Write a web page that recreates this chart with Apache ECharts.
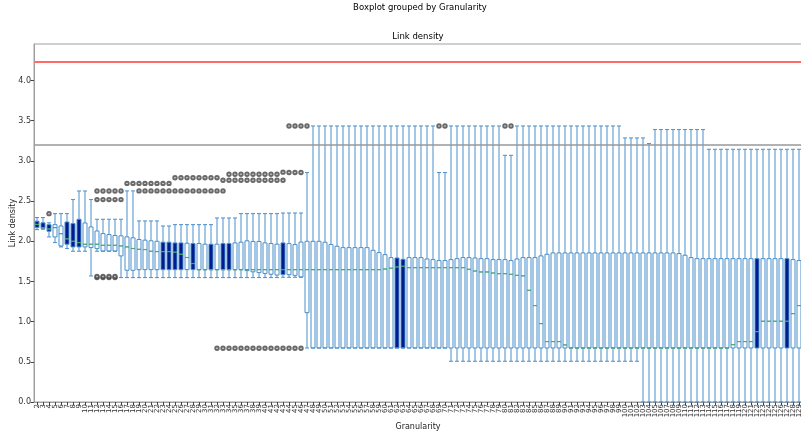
<!DOCTYPE html>
<html>
<head>
<meta charset="utf-8">
<script src="https://cdn.jsdelivr.net/npm/echarts@6/dist/echarts.min.js"></script>
<style>html,body{margin:0;padding:0;background:#fff}#c{width:801px;height:435px}</style>
</head>
<body>
<div id="c"></div>
<script>
const categories = ['2','3','4','5','6','7','8','9','10','11','12','13','14','15','16','17','18','19','20','21','22','23','24','25','26','27','28','29','30','31','32','33','34','35','36','37','38','39','40','41','42','43','44','45','46','47','48','49','50','51','52','53','54','55','56','57','58','59','60','61','62','63','64','65','66','67','68','69','70','71','72','73','74','75','76','77','78','79','80','81','82','83','84','85','86','87','88','89','90','91','92','93','94','95','96','97','98','99','100','101','102','103','104','105','106','107','108','109','110','111','112','113','114','115','116','117','118','119','120','121','122','123','124','125','126','127','128','129'];

const whiskerLow = [
2.145,2.15,2.054,1.984,1.93,1.909,1.876,1.876,1.876,1.569,
1.876,1.876,1.876,1.876,1.548,1.548,1.548,1.548,1.548,1.548,
1.548,1.548,1.548,1.548,1.548,1.548,1.548,1.548,1.548,1.548,
1.548,1.548,1.548,1.548,1.548,1.548,1.548,1.548,1.548,1.548,
1.548,1.552,1.552,1.552,1.552,0.672,0.672,0.672,0.672,0.672,
0.672,0.672,0.672,0.672,0.672,0.672,0.672,0.672,0.672,0.672,
0.672,0.672,0.672,0.672,0.672,0.672,0.672,0.672,0.672,0.507,
0.507,0.507,0.507,0.507,0.507,0.507,0.507,0.507,0.507,0.507,
0.507,0.507,0.507,0.507,0.507,0.507,0.507,0.507,0.507,0.507,
0.507,0.507,0.507,0.507,0.507,0.507,0.507,0.507,0.507,0.507,
0.507,0,0,0,0,0,0,0,0,0,
0,0,0,0,0,0,0,0,0,0,
0,0,0,0,0,0,0,0];

const q1 = [
2.17,2.16,2.125,2.054,1.942,1.963,1.93,1.93,1.93,1.922,
1.909,1.879,1.879,1.879,1.818,1.639,1.639,1.647,1.647,1.647,
1.647,1.647,1.647,1.647,1.647,1.647,1.647,1.647,1.647,1.647,
1.647,1.647,1.647,1.647,1.647,1.635,1.62,1.61,1.60,1.59,
1.58,1.585,1.585,1.576,1.556,1.112,0.672,0.672,0.672,0.672,
0.672,0.672,0.672,0.672,0.672,0.672,0.672,0.672,0.672,0.672,
0.672,0.672,0.672,0.672,0.672,0.672,0.672,0.672,0.672,0.672,
0.672,0.672,0.672,0.672,0.672,0.672,0.672,0.672,0.672,0.672,
0.672,0.672,0.672,0.672,0.672,0.672,0.672,0.672,0.672,0.672,
0.672,0.672,0.672,0.672,0.672,0.672,0.672,0.672,0.672,0.672,
0.672,0.672,0.672,0.672,0.672,0.672,0.672,0.672,0.672,0.672,
0.672,0.672,0.672,0.672,0.672,0.672,0.672,0.672,0.672,0.672,
0.672,0.672,0.672,0.672,0.672,0.672,0.672,0.672];

const median = [
2.21,2.17,2.153,2.17,2.095,2.03,2.0,1.984,1.963,1.963,
1.963,1.95,1.95,1.95,1.942,1.93,1.91,1.90,1.897,1.876,
1.872,1.872,1.872,1.864,1.839,1.798,1.723,1.647,1.647,1.647,
1.647,1.647,1.647,1.647,1.647,1.647,1.647,1.647,1.647,1.647,
1.647,1.647,1.647,1.647,1.647,1.647,1.647,1.647,1.647,1.647,
1.647,1.647,1.647,1.647,1.647,1.647,1.647,1.647,1.655,1.665,
1.68,1.689,1.672,1.672,1.672,1.672,1.672,1.672,1.672,1.672,
1.672,1.672,1.651,1.63,1.618,1.618,1.605,1.597,1.597,1.589,
1.576,1.57,1.39,1.2,0.976,0.752,0.752,0.752,0.71,0.672,
0.672,0.672,0.672,0.672,0.672,0.672,0.672,0.672,0.672,0.672,
0.672,0.672,0.672,0.672,0.672,0.672,0.672,0.672,0.672,0.672,
0.672,0.672,0.672,0.672,0.672,0.672,0.714,0.752,0.752,0.752,
0.876,1.005,1.005,1.005,1.005,1.005,1.1,1.2];

const q3 = [
2.25,2.23,2.207,2.207,2.19,2.24,2.22,2.274,2.228,2.178,
2.128,2.096,2.084,2.072,2.068,2.055,2.043,2.022,2.014,2.006,
2.0,1.989,1.989,1.98,1.98,1.976,1.972,1.972,1.964,1.964,
1.964,1.972,1.972,1.98,1.989,2.006,1.998,1.998,1.98,1.972,
1.964,1.98,1.971,1.959,1.99,2.0,2.0,2.0,1.988,1.959,
1.938,1.921,1.921,1.921,1.921,1.921,1.888,1.859,1.834,1.797,
1.792,1.776,1.797,1.797,1.797,1.78,1.772,1.76,1.76,1.772,
1.784,1.797,1.797,1.792,1.784,1.784,1.772,1.772,1.772,1.76,
1.78,1.797,1.797,1.797,1.818,1.838,1.855,1.855,1.855,1.855,
1.855,1.855,1.855,1.855,1.855,1.855,1.855,1.855,1.855,1.855,
1.855,1.855,1.855,1.855,1.855,1.855,1.855,1.847,1.826,1.797,
1.784,1.784,1.784,1.784,1.784,1.784,1.784,1.784,1.784,1.784,
1.784,1.784,1.784,1.784,1.784,1.784,1.772,1.76];

const whiskerHigh = [
2.295,2.295,2.23,2.344,2.344,2.344,2.519,2.626,2.626,2.519,
2.274,2.274,2.274,2.274,2.274,2.627,2.627,2.253,2.253,2.253,
2.253,2.19,2.19,2.207,2.207,2.207,2.207,2.207,2.207,2.207,
2.29,2.29,2.29,2.29,2.344,2.344,2.344,2.344,2.344,2.344,
2.344,2.352,2.352,2.352,2.352,2.855,3.435,3.435,3.435,3.435,
3.435,3.435,3.435,3.435,3.435,3.435,3.435,3.435,3.435,3.435,
3.435,3.435,3.435,3.435,3.435,3.435,3.435,2.855,2.855,3.435,
3.435,3.435,3.435,3.435,3.435,3.435,3.435,3.435,3.07,3.07,
3.435,3.435,3.435,3.435,3.435,3.435,3.435,3.435,3.435,3.435,
3.435,3.435,3.435,3.435,3.435,3.435,3.435,3.435,3.286,3.286,
3.286,3.286,3.216,3.39,3.39,3.39,3.39,3.39,3.39,3.39,
3.39,3.39,3.145,3.145,3.145,3.145,3.145,3.145,3.145,3.145,
3.145,3.145,3.145,3.145,3.145,3.145,3.145,3.145];

const outliers = [
['4',2.344],
['12',2.626],['12',2.519],['12',1.548],['12',1.562],
['13',2.626],['13',2.519],['13',1.548],['13',1.562],
['14',2.626],['14',2.519],['14',1.548],['14',1.562],
['15',2.626],['15',2.519],['15',1.548],['15',1.562],
['16',2.626],['16',2.519],
['17',2.72],['18',2.72],
['19',2.72],['19',2.627],['20',2.72],['20',2.627],['21',2.72],['21',2.627],
['22',2.72],['22',2.627],['23',2.72],['23',2.627],['24',2.72],['24',2.627],
['25',2.79],['25',2.627],['26',2.79],['26',2.627],['27',2.79],['27',2.627],
['28',2.79],['28',2.627],['29',2.79],['29',2.627],['30',2.79],['30',2.627],
['31',2.79],['31',2.627],
['32',2.79],['32',2.627],['32',0.668],
['33',2.76],['33',2.627],['33',0.668],
['34',2.835],['34',2.76],['34',0.668],['35',2.835],['35',2.76],['35',0.668],
['36',2.835],['36',2.76],['36',0.668],['37',2.835],['37',2.76],['37',0.668],
['38',2.835],['38',2.76],['38',0.668],['39',2.835],['39',2.76],['39',0.668],
['40',2.835],['40',2.76],['40',0.668],['41',2.835],['41',2.76],['41',0.668],
['42',2.835],['42',2.76],['42',0.668],
['43',2.86],['43',2.76],['43',0.668],
['44',3.435],['44',2.855],['44',0.668],['45',3.435],['45',2.855],['45',0.668],
['46',3.435],['46',2.855],['46',0.668],
['47',3.435],
['69',3.435],['70',3.435],['80',3.435],['81',3.435]
];

const refLines = [4.24, 3.2];
const filledCats = ['2','3','4','7','8','9','23','24','25','26','28','31','33','34','43','62','63','122','127'];

const FONT = 'DejaVu Sans';
const boxData = categories.map((c, i) => {
  const item = { value: [whiskerLow[i], q1[i], median[i], q3[i], whiskerHigh[i]] };
  if (filledCats.indexOf(c) >= 0) item.itemStyle = { color: '#001c8e' };
  return item;
});

const chart = echarts.init(document.getElementById('c'), null, { renderer: 'canvas' });
chart.setOption({
  animation: false,
  backgroundColor: '#ffffff',
  textStyle: { fontFamily: FONT },
  title: [
    { text: 'Boxplot grouped by Granularity', left: 420, top: 3, textAlign: 'center', padding: 0,
      textStyle: { fontSize: 8.5, fontWeight: 'normal', color: '#000', fontFamily: FONT } },
    { text: 'Link density', left: 418, top: 32, textAlign: 'center', padding: 0,
      textStyle: { fontSize: 8.5, fontWeight: 'normal', color: '#000', fontFamily: FONT } }
  ],
  grid: { left: 34, right: -1, top: 44, bottom: 33, outerBoundsMode: 'none', containLabel: false,
    show: true, borderColor: '#a0a0a0', borderWidth: 1, backgroundColor: 'transparent' },
  xAxis: {
    type: 'category', data: categories, boundaryGap: true,
    name: 'Granularity', nameLocation: 'middle', nameGap: 21, nameMoveOverlap: false,
    nameTextStyle: { fontSize: 8, color: '#222', fontFamily: FONT },
    axisLine: { show: true, lineStyle: { color: '#a0a0a0' } },
    axisTick: { show: true, alignWithLabel: true, length: 3.5, interval: 0, lineStyle: { color: '#444' } },
    axisLabel: { interval: 0, rotate: 90, fontSize: 7, margin: 2, color: '#333', fontFamily: FONT },
    splitLine: { show: false }
  },
  yAxis: {
    type: 'value', min: 0, max: 4.455, interval: 0.5,
    name: 'Link density', nameLocation: 'middle', nameGap: 17, nameMoveOverlap: false,
    nameTextStyle: { fontSize: 8, color: '#222', fontFamily: FONT },
    axisLine: { show: true, lineStyle: { color: '#a0a0a0' } },
    axisTick: { show: true, length: 3.5, lineStyle: { color: '#444' } },
    axisLabel: { fontSize: 8, margin: 3, color: '#333', showMaxLabel: false, fontFamily: FONT,
      formatter: v => v.toFixed(1) },
    splitLine: { show: false }
  },
  series: [
    {
      type: 'boxplot', data: boxData, boxWidth: [4, 4],
      itemStyle: { color: 'rgba(255,255,255,0)', borderColor: '#4a8fcc', borderWidth: 1 },
      emphasis: { disabled: true }, silent: true, z: 2,
      markLine: {
        silent: true, symbol: 'none', label: { show: false },
        data: [
          { yAxis: refLines[0], lineStyle: { color: '#ff6b6b', width: 2, type: 'solid' } },
          { yAxis: refLines[1], lineStyle: { color: '#999999', width: 1.5, type: 'solid' } }
        ]
      }
    },
    {
      type: 'scatter', data: categories.map((c, i) => [c, median[i]]),
      symbol: 'rect', symbolSize: [4, 1.2], itemStyle: { color: '#4caf50' },
      silent: true, z: 4
    },
    {
      type: 'scatter', data: outliers,
      symbol: 'emptyCircle', symbolSize: 3.4,
      itemStyle: { color: '#444', borderWidth: 0.6 },
      silent: true, z: 3
    }
  ]
});
</script>
</body>
</html>
